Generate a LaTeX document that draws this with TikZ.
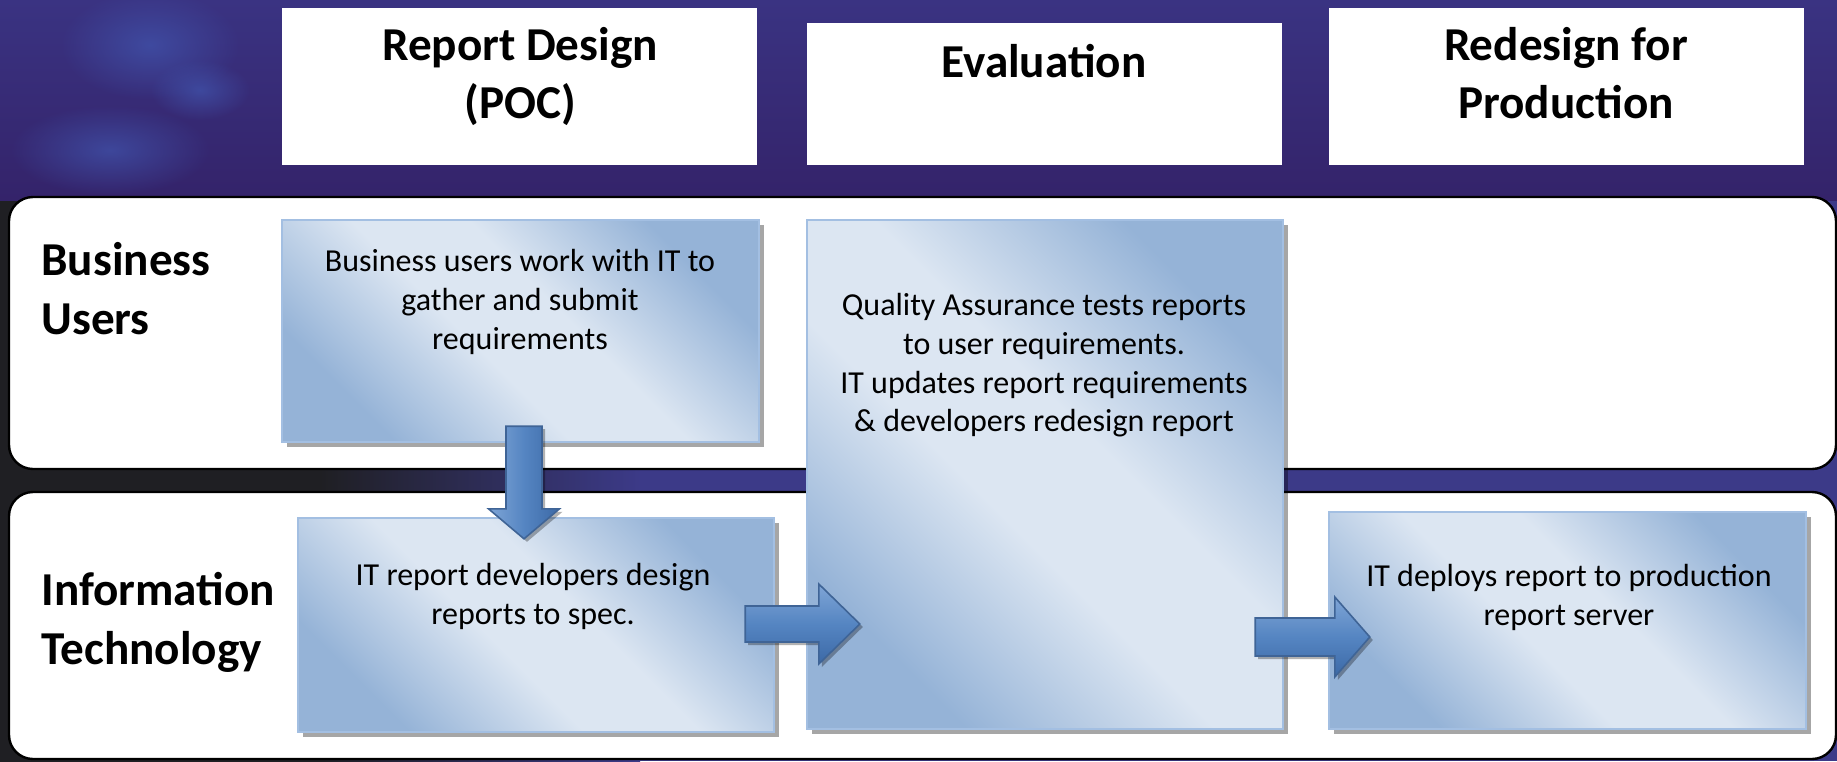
\documentclass[tikz,border=0pt]{standalone}
\usepackage{fontspec}
\setmainfont{Carlito}
\usetikzlibrary{calc,shadows,fadings}
\definecolor{bxdark}{HTML}{95B3D7}
\definecolor{bxlight}{HTML}{DCE6F2}
\definecolor{bxborder}{HTML}{A3BFE2}
\definecolor{arlight}{HTML}{7FA5D6}
\definecolor{armid}{HTML}{5585C2}
\definecolor{ardark}{HTML}{3C69A6}
\definecolor{arline}{HTML}{3F6496}
\definecolor{bgtop}{HTML}{3A3382}
\definecolor{bgmid}{HTML}{34236A}
\definecolor{bgleft}{HTML}{1F1F23}
\definecolor{bgright}{HTML}{3C3A88}
\definecolor{blob}{HTML}{4258B2}
\tikzfading[name=softblob, inner color=transparent!35, outer color=transparent!100]
\pgfdeclareverticalshading{boxshade}{100bp}{color(0bp)=(bxdark); color(26bp)=(bxdark); color(44bp)=(bxlight); color(56bp)=(bxlight); color(74bp)=(bxdark); color(100bp)=(bxdark)}
\begin{document}
\begin{tikzpicture}[x=0.5pt,y=-0.5pt,
  lane/.style={draw=black, line width=1.2pt, fill=white, rounded corners=12pt, inner sep=0pt},
  header/.style={fill=white, inner sep=0pt},
  stepbox/.style={draw=bxborder, line width=1.2pt, inner sep=0pt,
     shade, shading=boxshade, shading angle=-45,
     drop shadow={shadow xshift=2.5pt, shadow yshift=-2.5pt, fill=black, opacity=0.35}},
  hdrtext/.style={font=\fontsize{23.6}{29}\selectfont\bfseries, align=center, inner sep=0pt, anchor=north},
  lanetext/.style={font=\fontsize{23.6}{29.3}\selectfont\bfseries, align=left, inner sep=0pt, anchor=north west},
  bodytext/.style={font=\fontsize{16}{19.35}\selectfont, align=center, inner sep=0pt, anchor=north},
  blockarrow/.style={draw=arline, line width=0.8pt, line join=miter,
     preaction={fill=black, opacity=0.3, transform canvas={xshift=1.5pt,yshift=-1.5pt}}},
]
\useasboundingbox (0,0) rectangle (1837,761);
% background
\fill[bgright] (0,0) rectangle (1837,761);
\fill[left color=bgleft, right color=bgright, middle color=bgleft] (0,190) rectangle (640,761);
\fill[top color=bgtop, bottom color=bgmid] (0,0) rectangle (1837,200);
\fill[blob, path fading=softblob] (150,45) ellipse (90 and 55);
\fill[blob, path fading=softblob] (110,150) ellipse (100 and 45);
\fill[blob, path fading=softblob] (200,90) ellipse (50 and 30);
\fill[blob, path fading=softblob] (400,70) ellipse (60 and 45);

% lanes
\node[lane, minimum width=913.5pt, minimum height=136pt] (L1) at (922.5,333) {};
\node[lane, minimum width=913.5pt, minimum height=133.5pt] (L2) at (922.5,625.5) {};

% headers
\node[header, minimum width=237.5pt, minimum height=78.5pt] (H1) at (519.5,86.5) {};
\node[header, minimum width=237.5pt, minimum height=71pt] (H2) at (1044.5,94) {};
\node[header, minimum width=237.5pt, minimum height=78.5pt] (H3) at (1566.5,86.5) {};

% step boxes
\node[stepbox, minimum width=238.5pt, minimum height=111pt] (A) at (520.5,331) {};
\node[stepbox, minimum width=238pt, minimum height=107pt] (B) at (536,625) {};
\node[stepbox, minimum width=238pt, minimum height=254.5pt] (C) at (1045,474.5) {};
\node[stepbox, minimum width=238.5pt, minimum height=108.5pt] (D) at (1567.5,620.5) {};

% texts
\node[hdrtext] (t1) at (520,27) {Report Design\\(POC)};
\node[hdrtext] (t2) at (1044,44) {Evaluation};
\node[hdrtext] (t3) at (1566,27) {Redesign for\\Production};
\node[lanetext] (l1) at (41,242) {Business\\Users};
\node[lanetext] (l2) at (41,572) {Information\\Technology};
\node[bodytext] (ta) at (520,249) {Business users work with IT to\\gather and submit\\requirements};
\node[bodytext] (tb) at (533,563) {IT report developers design\\reports to spec.};
\node[bodytext] (tc) at (1044,293) {Quality Assurance tests reports\\to user requirements.\\IT updates report requirements\\\& developers redesign report};
\node[bodytext] (td) at (1569,564) {IT deploys report to production\\report server};

% down arrow A -> B
\coordinate (d1) at ($(A.south)+(3.5,-17)$);
\coordinate (d2) at ($(B.north)+(-12,22)$);
\path[blockarrow, left color=arlight, right color=ardark, middle color=armid]
  ($(d1)+(-18,0)$) -- ($(d2)+(-18,-30)$) -- ($(d2)+(-35.5,-30)$) -- (d2)
  -- ($(d2)+(35.5,-30)$) -- ($(d2)+(18,-30)$) -- ($(d1)+(18,0)$) -- cycle;

% right arrow B -> C
\coordinate (e1) at ($(B.east)+(-30,-1)$);
\coordinate (e2) at ($(C.west |- e1)+(54,0)$);
\path[blockarrow, top color=arlight, bottom color=ardark, middle color=armid]
  ($(e1)+(0,-18)$) -- ($(e2)+(-41,-18)$) -- ($(e2)+(-41,-40)$) -- (e2)
  -- ($(e2)+(-41,40)$) -- ($(e2)+(-41,18)$) -- ($(e1)+(0,18)$) -- cycle;

% right arrow C -> D
\coordinate (f2) at ($(D.west)+(42,16.5)$);
\coordinate (f1) at ($(C.east |- f2)+(-29,0)$);
\path[blockarrow, top color=arlight, bottom color=ardark, middle color=armid]
  ($(f1)+(0,-19)$) -- ($(f2)+(-35,-19)$) -- ($(f2)+(-35,-40)$) -- (f2)
  -- ($(f2)+(-35,40)$) -- ($(f2)+(-35,19)$) -- ($(f1)+(0,19)$) -- cycle;
\end{tikzpicture}
\end{document}
